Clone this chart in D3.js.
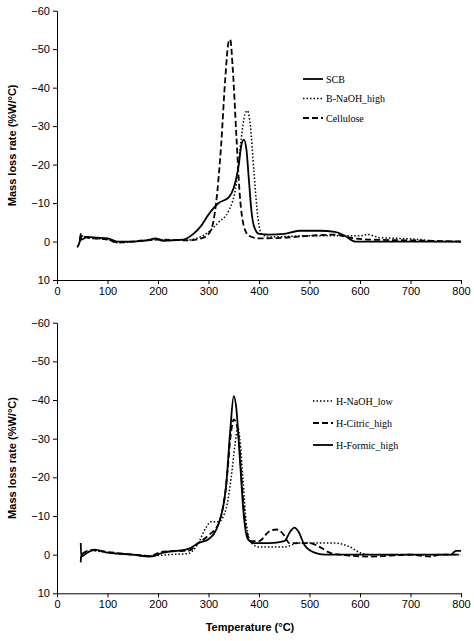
<!DOCTYPE html>
<html><head><meta charset="utf-8">
<script src="https://cdn.jsdelivr.net/npm/d3@7"></script>
<style>body{margin:0;background:#fff}</style></head>
<body><svg id="c" width="474" height="641"></svg>
<script>
const xTicks=[0,100,200,300,400,500,600,700,800];
const yTicks=[-60,-50,-40,-30,-20,-10,0,10];
const topNames=["SCB","B-NaOH_high","Cellulose"];
const botNames=["H-NaOH_low","H-Citric_high","H-Formic_high"];
const scb=[[40,1.5],[45,0],[47,-2],[48,-0.5],[60,-1.2],[80,-1],[100,-0.8],[120,0],[150,0],[180,-0.3],[195,-0.8],[210,-0.2],[250,-0.5],[270,-2],[285,-4],[300,-7],[320,-10],[340,-11.5],[350,-14],[360,-20],[365,-25],[370,-26.5],[375,-24],[380,-16],[385,-8],[390,-4],[400,-2],[420,-1.8],[450,-2],[480,-2.8],[520,-2.8],[550,-2.5],[570,-1.5],[590,0],[800,0]];
const bNaOH=[[45,0],[47,-1.5],[60,-1],[100,-0.5],[120,0.3],[200,-0.5],[250,-0.3],[280,-1],[300,-2.5],[320,-5],[340,-8],[355,-15],[365,-27],[372,-33],[377,-34],[383,-30],[390,-18],[398,-6],[405,-2],[420,-1.2],[500,-1.5],[560,-1.5],[600,-1.5],[615,-1.8],[640,-1],[680,-0.8],[720,-0.5],[750,0],[800,0]];
const cellulose=[[45,0],[48,-1.5],[60,-1],[100,-0.5],[120,0.2],[200,-0.5],[260,-0.3],[290,-1],[305,-3],[315,-10],[325,-25],[333,-42],[340,-52],[343,-52.5],[348,-45],[355,-28],[362,-12],[370,-4],[380,-1.5],[400,-0.8],[450,-1],[500,-1.5],[550,-1.8],[580,-1],[620,-0.5],[700,-0.3],[800,0]];
const hNaOH=[[47,1],[50,0],[70,-1],[100,-0.5],[150,0],[190,0.3],[220,0],[260,-0.3],[280,-3],[295,-7],[305,-8.5],[320,-8.5],[335,-12],[345,-20],[352,-28],[358,-33],[362,-30],[368,-20],[375,-8],[385,-3],[400,-2],[450,-2],[480,-3],[550,-3],[580,-2],[600,-0.5],[620,0],[800,0]];
const hCitric=[[47,2],[48,0],[70,-1.2],[100,-0.7],[150,0],[185,0.3],[210,-0.8],[260,-1],[280,-3],[300,-5],[320,-8],[335,-18],[345,-32],[350,-35],[355,-34],[360,-30],[368,-15],[375,-6],[385,-3.5],[400,-3.5],[420,-6],[435,-6.5],[450,-5],[460,-3],[500,-3],[520,-2],[540,-0.5],[560,0],[620,0.5],[700,0],[740,0.5],[760,0],[800,0]];
const hFormic=[[47,-3],[48,0.5],[60,-0.5],[75,-1.3],[100,-0.5],[150,0],[185,0.5],[210,-0.5],[260,-1.5],[280,-3],[300,-4],[320,-8],[335,-18],[343,-32],[350,-41],[355,-38],[362,-25],[370,-10],[378,-4],[390,-3],[420,-3],[450,-3.5],[462,-6],[470,-7],[478,-6],[490,-2.5],[510,-0.5],[530,0],[780,0],[790,-1],[800,-1]];

const svg=d3.select("#c");
const x=d3.scaleLinear().domain([0,800]).range([57,461]);
const styles=[{w:1.8,d:null},{w:1.5,d:"1.5,2"},{w:1.8,d:"6,3"}];
function panel(y0,y1,series,names,order,leg){
  const y=d3.scaleLinear().domain([-60,10]).range([y0,y1]);
  const g=svg.append("g");
  g.append("g").attr("transform",`translate(0,${y1})`).call(d3.axisBottom(x).tickValues(xTicks).tickSize(4).tickSizeOuter(0))
   .call(a=>a.selectAll("text").attr("font-family","Arial, Liberation Sans").attr("font-size",11).attr("fill","#000"));
  g.append("g").attr("transform",`translate(${x(0)},0)`).call(d3.axisLeft(y).tickValues(yTicks).tickSize(4).tickSizeOuter(0).tickFormat(d=>d<0?"\u2212"+(-d):d))
   .call(a=>a.selectAll("text").attr("font-family","Arial, Liberation Sans").attr("font-size",11).attr("fill","#000"));
  g.append("text").attr("transform",`translate(16,${(y0+y1)/2}) rotate(-90)`).attr("text-anchor","middle")
   .attr("font-family","Arial, Liberation Sans").attr("font-weight","bold").attr("font-size",11).text("Mass loss rate (%W/°C)");
  const line=d3.line().x(d=>x(d[0])).y(d=>y(d[1])).curve(d3.curveMonotoneX);
  series.forEach((s,i)=>{const st=styles[order[i]];
    g.append("path").attr("d",line(s)).attr("fill","none").attr("stroke","#000").attr("stroke-width",st.w).attr("stroke-dasharray",st.d);
    g.append("line").attr("x1",leg.x).attr("x2",leg.x+20).attr("y1",leg.y+i*leg.dy).attr("y2",leg.y+i*leg.dy)
      .attr("stroke","#000").attr("stroke-width",st.w).attr("stroke-dasharray",st.d);
    g.append("text").attr("x",leg.x+23).attr("y",leg.y+i*leg.dy+3.5).attr("font-family","Liberation Serif, Times New Roman")
      .attr("font-size",10).text(names[i]);
  });
}
panel(10.7,280,[scb,bNaOH,cellulose],topNames,[0,1,2],{x:303,y:79,dy:19.5});
panel(322.7,593.3,[hNaOH,hCitric,hFormic],botNames,[1,2,0],{x:313,y:401,dy:22});
svg.append("text").attr("x",250).attr("y",631).attr("text-anchor","middle").attr("font-family","Arial, Liberation Sans")
  .attr("font-weight","bold").attr("font-size",11).text("Temperature (°C)");
</script></body></html>
